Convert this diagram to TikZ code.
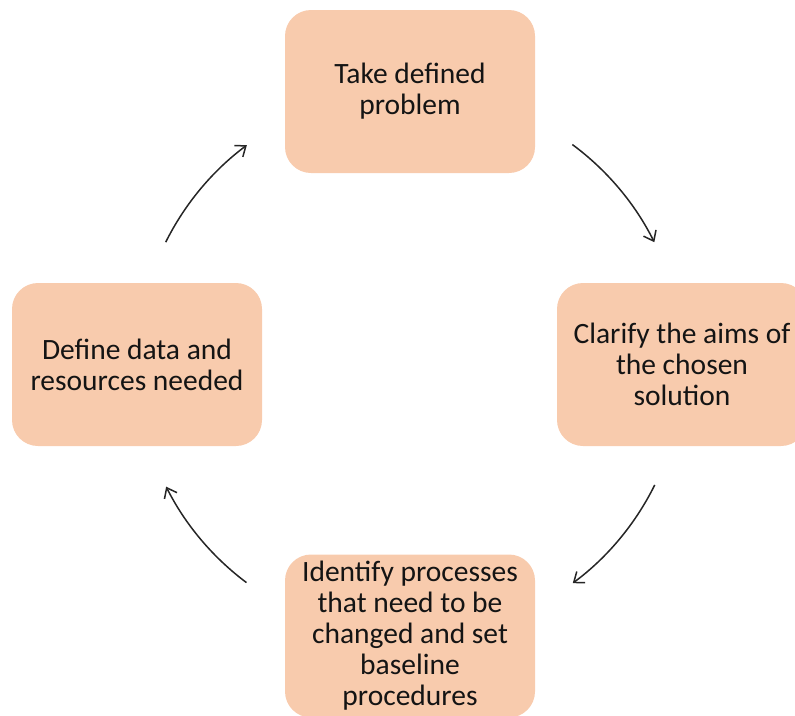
\documentclass[tikz,border=0pt]{standalone}
\usepackage{fontspec}
\setmainfont{Carlito}
\usetikzlibrary{arrows.meta,calc}
\definecolor{boxfill}{HTML}{F8CBAD}
\definecolor{txt}{HTML}{141414}
\begin{document}
\begin{tikzpicture}[x=1pt,y=-1pt,
  stepbox/.style={fill=boxfill, draw=none, rounded corners=26pt,
    minimum width=250pt, minimum height=163pt, align=center,
    text=txt, font=\fontsize{29.5}{31}\selectfont, inner sep=0pt},
  cyc/.style={draw=black!85, line width=1.5pt,
    -{Straight Barb[length=9pt,width=14pt,line width=1.5pt]}}]
\useasboundingbox (0,0) rectangle (795,715);
\begin{scope}
\clip (0,0) rectangle (795,715);
\node[stepbox] (top) at (410,91.5) {Take defined\\problem};
\node[stepbox] (right) at (682,364.5) {Clarify the aims of\\the chosen\\solution};
\node[stepbox] (bottom) at (410,636) {Identify processes\\that need to be\\changed and set\\baseline\\procedures};
\node[stepbox] (left) at (137,364.5) {Define data and\\resources needed};
\end{scope}
\coordinate (ctr) at (410,364);
\coordinate (a1) at ($(ctr)+(53.5:273pt)$);
\coordinate (a2) at ($(ctr)+(-26.3:273pt)$);
\coordinate (a3) at ($(ctr)+(-126.8:273pt)$);
\coordinate (a4) at ($(ctr)+(153.5:273pt)$);
\draw[cyc] (a1) arc[start angle=53.5, end angle=26.5, radius=273pt];
\draw[cyc] (a2) arc[start angle=-26.3, end angle=-53.4, radius=273pt];
\draw[cyc] (a3) arc[start angle=-126.8, end angle=-153.3, radius=273pt];
\draw[cyc] (a4) arc[start angle=153.5, end angle=126.7, radius=273pt];
\end{tikzpicture}
\end{document}
